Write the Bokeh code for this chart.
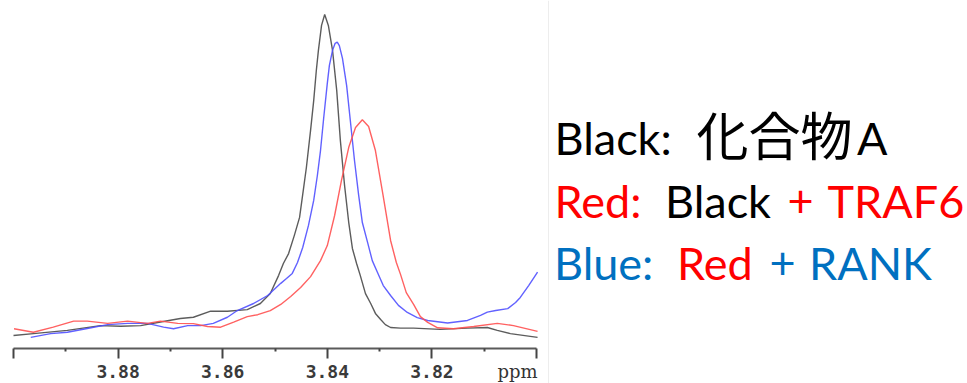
from bokeh.plotting import figure
from bokeh.models import Range1d, FixedTicker, Label, Span
from bokeh.embed import file_html
from bokeh.resources import INLINE

# ---- data (ppm, intensity) ----
black_ppm = [3.9000, 3.8962, 3.8897, 3.8834, 3.8795, 3.8757, 3.8719, 3.8681, 3.8656, 3.8623,
             3.8591, 3.8553, 3.8528, 3.8509, 3.8493, 3.8484, 3.8474, 3.8463, 3.8453, 3.8446,
             3.8440, 3.8432, 3.8426, 3.8421, 3.8417, 3.8411, 3.8405, 3.8398, 3.8390, 3.8382,
             3.8375, 3.8367, 3.8359, 3.8352, 3.8344, 3.8337, 3.8327, 3.8317, 3.8308, 3.8298,
             3.8289, 3.8279, 3.8260, 3.8235, 3.8184, 3.8132, 3.8094, 3.8075, 3.8050, 3.7998]
black_int = [0.0, 0.6, 1.6, 3.1, 2.9, 3.1, 4.2, 5.3, 5.7, 7.6,
             7.6, 8.1, 10.0, 13.1, 18.8, 22.5, 25.6, 31.3, 36.9, 45.3,
             52.5, 64.1, 73.4, 82.8, 89.1, 96.9, 100.3, 96.9, 89.1, 76.6,
             60.9, 46.9, 35.3, 27.2, 22.5, 18.8, 13.1, 10.0, 6.9, 5.0,
             3.4, 2.5, 2.3, 2.3, 1.9, 2.3, 2.5, 1.6, 0.6, -0.6]

blue_ppm = [3.8967, 3.8929, 3.8897, 3.8859, 3.8820, 3.8782, 3.8744, 3.8713, 3.8694, 3.8667,
            3.8642, 3.8618, 3.8591, 3.8572, 3.8541, 3.8514, 3.8489, 3.8478, 3.8467, 3.8457,
            3.8447, 3.8436, 3.8426, 3.8419, 3.8413, 3.8407, 3.8400, 3.8396, 3.8390, 3.8385,
            3.8381, 3.8377, 3.8371, 3.8363, 3.8356, 3.8348, 3.8340, 3.8333, 3.8323, 3.8314,
            3.8304, 3.8293, 3.8279, 3.8264, 3.8247, 3.8228, 3.8208, 3.8170, 3.8132, 3.8107,
            3.8094, 3.8078, 3.8055, 3.8040, 3.8031, 3.8015, 3.7998]
blue_int = [-0.6, 0.6, 1.0, 2.2, 3.4, 3.8, 3.8, 2.6, 2.1, 3.1,
            3.1, 3.8, 5.7, 7.8, 10.0, 12.5, 16.3, 17.8, 19.4, 22.8,
            27.5, 34.4, 42.2, 50.0, 57.8, 67.8, 78.8, 84.4, 89.1, 91.3,
            91.7, 90.6, 86.6, 78.1, 67.2, 54.7, 43.8, 35.3, 29.1, 23.4,
            19.7, 15.6, 12.5, 9.4, 7.2, 5.6, 4.7, 3.9, 4.7, 6.3,
            7.3, 7.8, 8.4, 10.3, 11.9, 15.6, 19.8]

red_ppm = [3.8999, 3.8962, 3.8924, 3.8885, 3.8859, 3.8820, 3.8782, 3.8744, 3.8719, 3.8686,
           3.8656, 3.8629, 3.8604, 3.8579, 3.8553, 3.8533, 3.8509, 3.8489, 3.8470, 3.8451,
           3.8432, 3.8413, 3.8400, 3.8386, 3.8373, 3.8359, 3.8346, 3.8333, 3.8321, 3.8308,
           3.8294, 3.8279, 3.8268, 3.8260, 3.8249, 3.8235, 3.8222, 3.8208, 3.8189, 3.8159,
           3.8120, 3.8075, 3.8044, 3.7998]
red_int = [2.1, 1.0, 2.6, 4.5, 4.5, 3.8, 4.5, 3.8, 4.5, 3.8,
           3.7, 2.8, 2.6, 4.2, 5.9, 6.5, 7.8, 9.7, 12.2, 15.0,
           18.4, 23.4, 28.1, 37.5, 48.4, 58.8, 65.0, 67.4, 65.3, 57.8,
           44.4, 29.7, 22.8, 19.1, 13.4, 9.7, 5.9, 4.1, 2.4, 2.1,
           2.8, 3.8, 3.1, 1.3]

major_ticks = [3.80, 3.82, 3.84, 3.86, 3.88, 3.90]
minor_ticks = [3.81, 3.83, 3.85, 3.87, 3.89]
hidden_labels = {3.8: "", 3.9: ""}
axis_unit = "ppm"

# legend rows: (text, colour, font) pieces
legend_rows = [
    [("Black:", "#000000", "lat"), ("化合物", "#000000", "cjk"), ("A", "#000000", "lat")],
    [("Red:", "#FF0000", "lat"), ("Black", "#000000", "lat"), ("+", "#FF0000", "lat"), ("TRAF6", "#FF0000", "lat")],
    [("Blue:", "#0070C0", "lat"), ("Red", "#FF0000", "lat"), ("+", "#0070C0", "lat"), ("RANK", "#0070C0", "lat")],
]

# ---- layout helpers (pixel layout -> data coordinates) ----
W, H = 967, 383
AXIS_Y = 348
PPM_AT_LEFT = 3.902486
PX_PER_PPM = 5230.0


def at_x(px):
    return PPM_AT_LEFT - px / PX_PER_PPM


def at_y(py):
    return (335.0 - py) / 3.2


p = figure(width=W, height=H, output_backend="svg", toolbar_location=None,
           x_range=Range1d(at_x(0), at_x(W)), y_range=Range1d(at_y(H), at_y(0)),
           y_axis_location=None, x_axis_location="below",
           min_border_left=0, min_border_right=0, min_border_top=0, min_border_bottom=0)
p.outline_line_color = None
p.xgrid.visible = False
p.ygrid.visible = False
p.background_fill_color = "white"
p.border_fill_color = "white"

p.line(black_ppm, black_int, line_color="#4a4a4a", line_width=1.4, line_alpha=0.9)
p.line(blue_ppm, blue_int, line_color="#5050ff", line_width=1.4, line_alpha=0.9)
p.line(red_ppm, red_int, line_color="#ff5050", line_width=1.4, line_alpha=0.9)

ax = p.xaxis[0]
ax.fixed_location = at_y(AXIS_Y)
ax.ticker = FixedTicker(ticks=major_ticks, minor_ticks=minor_ticks)
ax.bounds = (3.80, 3.90)
ax.major_label_overrides = hidden_labels
ax.axis_line_color = "#5a5a5a"
ax.axis_line_width = 2
ax.major_tick_line_color = "#444444"
ax.major_tick_line_width = 2
ax.major_tick_in = 0
ax.major_tick_out = 10
ax.minor_tick_line_color = "#444444"
ax.minor_tick_line_width = 2
ax.minor_tick_in = 0
ax.minor_tick_out = 3
ax.major_label_standoff = 6
ax.major_label_text_font = "DejaVu Sans Mono"
ax.major_label_text_font_style = "bold"
ax.major_label_text_font_size = "18px"
ax.major_label_text_color = "#3a3a3a"

p.add_layout(Label(x=at_x(497), y=at_y(371), text=axis_unit,
                   text_font="DejaVu Serif", text_font_size="18px", text_color="#333333",
                   text_baseline="alphabetic"))

p.add_layout(Span(location=at_x(548), dimension="height", line_color="#ededed", line_width=1))

row_anchor = [155, 218, 280]
font_shift = {"lat": 18, "cjk": 22}
piece_lefts = [[554, 696, 856.5], [554, 664.5, 787, 827], [553.5, 676.5, 769, 808.5]]
fonts = {"lat": ("Lato", "45px"), "cjk": ("Noto Sans CJK JP", "52px")}
for row, base, lefts in zip(legend_rows, row_anchor, piece_lefts):
    for (txt, col, f), left in zip(row, lefts):
        fam, size = fonts[f]
        p.add_layout(Label(x=at_x(left), y=at_y(base - font_shift[f]), text=txt,
                           text_font=fam, text_font_size=size,
                           text_color=col, text_baseline="alphabetic"))

open("out.html", "w").write(file_html(p, INLINE))
